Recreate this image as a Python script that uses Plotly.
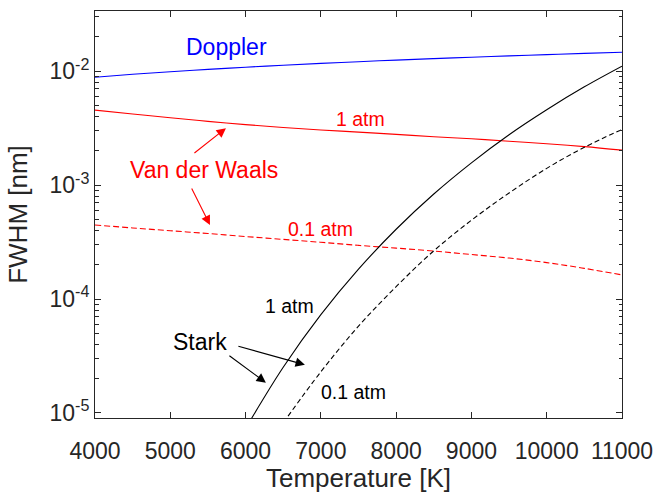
import plotly.graph_objects as go

# ---- data ----
T_full = [4000, 4500, 5000, 5500, 6000, 6500, 7000, 7500, 8000, 8500, 9000, 9500, 10000, 10500, 11000]
doppler = [0.00885, 0.00939, 0.00989, 0.01038, 0.01084, 0.01128, 0.01171, 0.01212,
           0.01252, 0.01290, 0.01327, 0.01364, 0.01399, 0.01434, 0.01468]
vdw_1atm = [4.55e-3, 4.21e-3, 3.90e-3, 3.63e-3, 3.40e-3, 3.21e-3, 3.05e-3, 2.92e-3,
            2.79e-3, 2.66e-3, 2.55e-3, 2.43e-3, 2.31e-3, 2.18e-3, 2.03e-3]
vdw_01atm = [4.47e-4, 4.21e-4, 3.98e-4, 3.76e-4, 3.54e-4, 3.34e-4, 3.15e-4, 2.96e-4,
             2.80e-4, 2.64e-4, 2.46e-4, 2.29e-4, 2.09e-4, 1.86e-4, 1.63e-4]
T_stark1 = [6000, 6500, 7000, 7500, 8000, 8500, 9000, 9500, 10000, 10500, 11000]
stark_1atm = [7.31e-6, 2.52e-5, 7.29e-5, 1.83e-4, 4.10e-4, 8.36e-4, 1.57e-3, 2.77e-3,
              4.59e-3, 7.29e-3, 1.107e-2]
T_stark01 = [6500, 7000, 7500, 8000, 8500, 9000, 9500, 10000, 10500, 11000]
stark_01atm = [8.18e-6, 2.30e-5, 5.78e-5, 1.285e-4, 2.65e-4, 4.92e-4, 8.53e-4, 1.403e-3,
               2.15e-3, 3.08e-3]

x_ticks = [4000, 5000, 6000, 7000, 8000, 9000, 10000, 11000]
x_ticktext = ["4000", "5000", "6000", "7000", "8000", "9000", "10000", "11000"]
y_ticks = [1e-5, 1e-4, 1e-3, 1e-2]
y_ticktext = ["10<sup>-5</sup>", "10<sup>-4</sup>", "10<sup>-3</sup>", "10<sup>-2</sup>"]
y_minor = [m * 10.0 ** e for e in (-5, -4, -3, -2) for m in range(2, 10) if m * 10.0 ** e < 0.034]

FONT = "Liberation Sans, Arial, sans-serif"
AX = "#262626"
YRANGE = [-5.044, -1.4715]

fig = go.Figure()
fig.add_trace(go.Scatter(x=T_full, y=doppler, mode="lines", line=dict(color="#0000ff", width=1.1, shape="spline")))
fig.add_trace(go.Scatter(x=T_full, y=vdw_1atm, mode="lines", line=dict(color="#ff0000", width=1.1, shape="spline")))
fig.add_trace(go.Scatter(x=T_full, y=vdw_01atm, mode="lines",
                         line=dict(color="#ff0000", width=1.1, dash="6px,3px", shape="spline")))
fig.add_trace(go.Scatter(x=T_stark1, y=stark_1atm, mode="lines", line=dict(color="#000000", width=1.1, shape="spline")))
fig.add_trace(go.Scatter(x=T_stark01, y=stark_01atm, mode="lines",
                         line=dict(color="#000000", width=1.1, dash="5px,3px", shape="spline")))

def txt(x, ly, s, color, size):
    fig.add_annotation(x=x, y=ly, text=s, showarrow=False, xref="x", yref="y",
                       font=dict(family=FONT, size=size, color=color))

def arrow(x, ly, ax, ay, color):
    fig.add_annotation(x=x, y=ly, text="", showarrow=True, ax=ax, ay=ay, axref="pixel", ayref="pixel",
                       xref="x", yref="y",
                       arrowhead=2, arrowsize=1.7, arrowwidth=1.1, arrowcolor=color, standoff=0)

txt(5752, -1.787, "Doppler", "#0000ff", 23)
txt(7531, -2.421, "1 atm", "#ff0000", 19.5)
txt(5447, -2.863, "Van der Waals", "#ff0000", 23)
txt(7000, -3.385, "0.1 atm", "#ff0000", 19.5)
txt(6589, -4.058, "1 atm", "#000000", 19.5)
txt(5390, -4.375, "Stark", "#000000", 23)
txt(7429, -4.815, "0.1 atm", "#000000", 19.5)

arrow(5739, -2.500, -33, 26, "#ff0000")
arrow(5527, -3.350, -19, -38, "#ff0000")
arrow(6788, -4.577, -68, -19, "#000000")
arrow(6270, -4.734, -38, -28, "#000000")

fig.update_layout(
    width=655, height=493,
    margin=dict(l=95, r=33, t=11, b=75, autoexpand=False),
    paper_bgcolor="white", plot_bgcolor="white",
    showlegend=False,
    font=dict(family=FONT, color=AX),
    xaxis=dict(
        range=[4000, 11000], tickmode="array", tickvals=x_ticks, ticktext=x_ticktext,
        ticks="inside", ticklen=6, tickwidth=1, tickcolor=AX,
        showline=True, linecolor=AX, linewidth=1, mirror="ticks",
        showgrid=False, zeroline=False, automargin=False,
        ticklabelstandoff=12,
        tickfont=dict(family=FONT, size=23, color=AX),
        title=dict(text="Temperature [K]", font=dict(family=FONT, size=26, color=AX), standoff=0),
    ),
    yaxis=dict(
        type="log", range=YRANGE, tickmode="array", tickvals=y_ticks, ticktext=y_ticktext,
        ticks="inside", ticklen=6, tickwidth=1, tickcolor=AX,
        showline=True, linecolor=AX, linewidth=1, mirror="ticks",
        showgrid=False, zeroline=False, automargin=False,
        tickfont=dict(family=FONT, size=23, color=AX),
        title=dict(text="FWHM [nm]", font=dict(family=FONT, size=26, color=AX), standoff=14),
    ),
    yaxis2=dict(
        type="log", range=YRANGE, overlaying="y", anchor="x", side="left",
        tickmode="array", tickvals=y_minor, showticklabels=False,
        ticks="inside", ticklen=3.5, tickwidth=1, tickcolor=AX,
        showline=False, mirror="ticks", showgrid=False, zeroline=False, automargin=False,
    ),
)
# invisible helper trace so the minor-tick axis is drawn
fig.add_trace(go.Scatter(x=[None], y=[None], yaxis="y2", mode="lines", hoverinfo="skip"))

# remove the default page margin so the 655x493 figure fills the window exactly
fig.write_html("out.html", config={"displayModeBar": False},
               post_script="document.body.style.margin='0px';")
